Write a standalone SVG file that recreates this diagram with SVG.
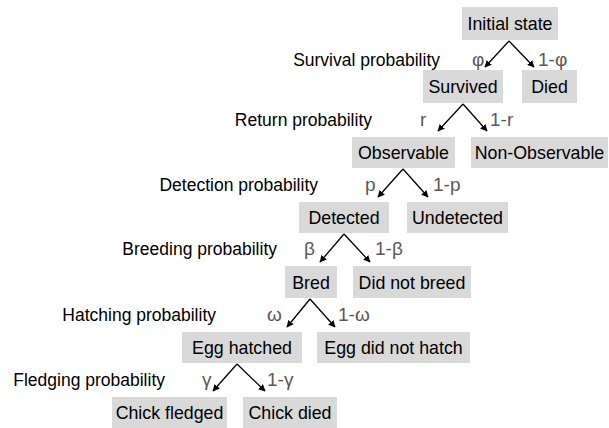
<svg xmlns="http://www.w3.org/2000/svg" width="609" height="428" viewBox="0 0 609 428">
<style>
.box{fill:#d9d9d9;stroke:none}
.t{font-family:"Liberation Sans",Arial,sans-serif;font-size:17.8px;fill:#000;text-anchor:middle}
.lab{font-family:"Liberation Sans",Arial,sans-serif;font-size:17.5px;fill:#000;text-anchor:end}
.g{font-family:"Liberation Sans",Arial,sans-serif;font-size:19px;fill:#595959}
.c{stroke:#000;stroke-width:1.3;fill:none;marker-end:url(#ah)}
</style>
<defs>
<marker id="ah" viewBox="0 0 10 10" refX="9" refY="5" markerWidth="7" markerHeight="7" markerUnits="userSpaceOnUse" orient="auto">
<path d="M0,0 L10,5 L0,10 z" fill="#000"/>
</marker>
</defs>
<rect width="609" height="428" fill="#fff"/>
<g id="initial"><rect class="box" x="462" y="7" width="96" height="33"/><text class="t" x="510" y="30">Initial state</text></g>
<g id="survived"><rect class="box" x="423" y="70" width="80" height="33"/><text class="t" x="463" y="93">Survived</text></g>
<g id="died"><rect class="box" x="522" y="70" width="55" height="33"/><text class="t" x="549.5" y="93">Died</text></g>
<g id="observable"><rect class="box" x="352" y="137" width="103" height="31"/><text class="t" x="403.5" y="159">Observable</text></g>
<g id="nonobservable"><rect class="box" x="471" y="137" width="137" height="31"/><text class="t" x="539.5" y="159">Non-Observable</text></g>
<g id="detected"><rect class="box" x="299" y="202" width="90" height="31"/><text class="t" x="344" y="224">Detected</text></g>
<g id="undetected"><rect class="box" x="407" y="202" width="101" height="31"/><text class="t" x="457.5" y="224">Undetected</text></g>
<g id="bred"><rect class="box" x="285" y="266" width="52" height="32"/><text class="t" x="311" y="288.5">Bred</text></g>
<g id="didnotbreed"><rect class="box" x="353" y="266" width="118" height="32"/><text class="t" x="412" y="288.5">Did not breed</text></g>
<g id="egghatched"><rect class="box" x="182" y="332" width="120" height="31"/><text class="t" x="242" y="354">Egg hatched</text></g>
<g id="eggdidnothatch"><rect class="box" x="317" y="332" width="153" height="31"/><text class="t" x="393.5" y="354">Egg did not hatch</text></g>
<g id="chickfledged"><rect class="box" x="112" y="397" width="115" height="31"/><text class="t" x="169.5" y="419">Chick fledged</text></g>
<g id="chickdied"><rect class="box" x="243" y="397" width="94" height="31"/><text class="t" x="290" y="419">Chick died</text></g>
<g id="labels">
<text class="lab" x="440" y="66">Survival probability</text>
<text class="lab" x="372" y="126">Return probability</text>
<text class="lab" x="318" y="191">Detection probability</text>
<text class="lab" x="277" y="255">Breeding probability</text>
<text class="lab" x="216" y="321">Hatching probability</text>
<text class="lab" x="165" y="386">Fledging probability</text>
</g>
<g id="probs">
<text class="g" x="472" y="66">φ</text><text class="g" x="538" y="66">1-φ</text>
<text class="g" x="420" y="126">r</text><text class="g" x="490" y="126">1-r</text>
<text class="g" x="365" y="191">p</text><text class="g" x="433" y="191">1-p</text>
<text class="g" x="304" y="255">β</text><text class="g" x="375" y="255">1-β</text>
<text class="g" x="267" y="321">ω</text><text class="g" x="338" y="321">1-ω</text>
<text class="g" x="202" y="386">γ</text><text class="g" x="267" y="386">1-γ</text>
</g>
<g id="connectors">
<path class="c" d="M509,41 L485,67"/><path class="c" d="M509,41 L534,67"/>
<path class="c" d="M463,104 L438,131"/><path class="c" d="M463,104 L487,131"/>
<path class="c" d="M403,169 L378,197"/><path class="c" d="M403,169 L428,197"/>
<path class="c" d="M344,234 L320,262"/><path class="c" d="M344,234 L370,262"/>
<path class="c" d="M310,299 L287,327"/><path class="c" d="M310,299 L335,327"/>
<path class="c" d="M237,364 L213,391"/><path class="c" d="M237,364 L265,391"/>
</g>
</svg>
